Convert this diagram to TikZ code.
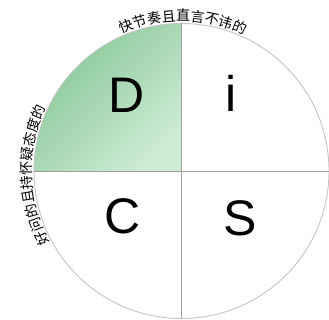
\documentclass[tikz,border=0pt]{standalone}
\usepackage{fontspec}
\setmainfont{Liberation Sans}
\newfontfamily\cjkfont{Noto Sans CJK SC}
\newcommand\arcfont{\cjkfont\fontsize{14}{16}\selectfont}
\usetikzlibrary{decorations.text}
\definecolor{greendark}{HTML}{86C695}
\definecolor{greenlight}{HTML}{CDEBD5}
\definecolor{linegray}{HTML}{A0A0A0}
\definecolor{circgray}{HTML}{C4C4C4}
\tikzset{
  letter/.style={anchor=base, font=\fontsize{50}{50}\selectfont, text=black, inner sep=0pt},
  divider/.style={draw=linegray, line width=0.9pt},
  rim/.style={draw=circgray, line width=0.9pt}
}
\begin{document}
\begin{tikzpicture}[x=1pt,y=1pt]
\useasboundingbox (0,0) rectangle (329,320);
\coordinate (c) at (181.5,149);
\coordinate (top) at (181.5,296.5);
\coordinate (bot) at (181.5,1.5);
\coordinate (left) at (34,149);
\coordinate (right) at (329,149);
% D quadrant
\shade[top color=greendark, bottom color=greenlight, shading angle=45]
  (c) -- (left) arc[start angle=180, end angle=90, radius=147.5] -- cycle;
\draw[rim] (c) circle[radius=147.5];
\draw[divider] (top) -- (bot);
\draw[divider] (left) -- (right);
\node[letter] (D) at (127,207) {D};
\node[letter] (i) at (231,208) {i};
\node[letter] (C) at (122.5,86) {C};
\node[letter] (S) at (240,84) {S};
\path[decorate, decoration={text along path, text align=center,
  text={|\arcfont|快节奏且直言不讳的}}]
  (c) ++(129.4:150) arc[start angle=129.4, end angle=49.4, radius=150];
\path[decorate, decoration={text along path, text align=center,
  text={|\arcfont|好问的且持怀疑态度的}}]
  (c) ++(231.6:150) arc[start angle=231.6, end angle=131.6, radius=150];
\end{tikzpicture}
\end{document}
